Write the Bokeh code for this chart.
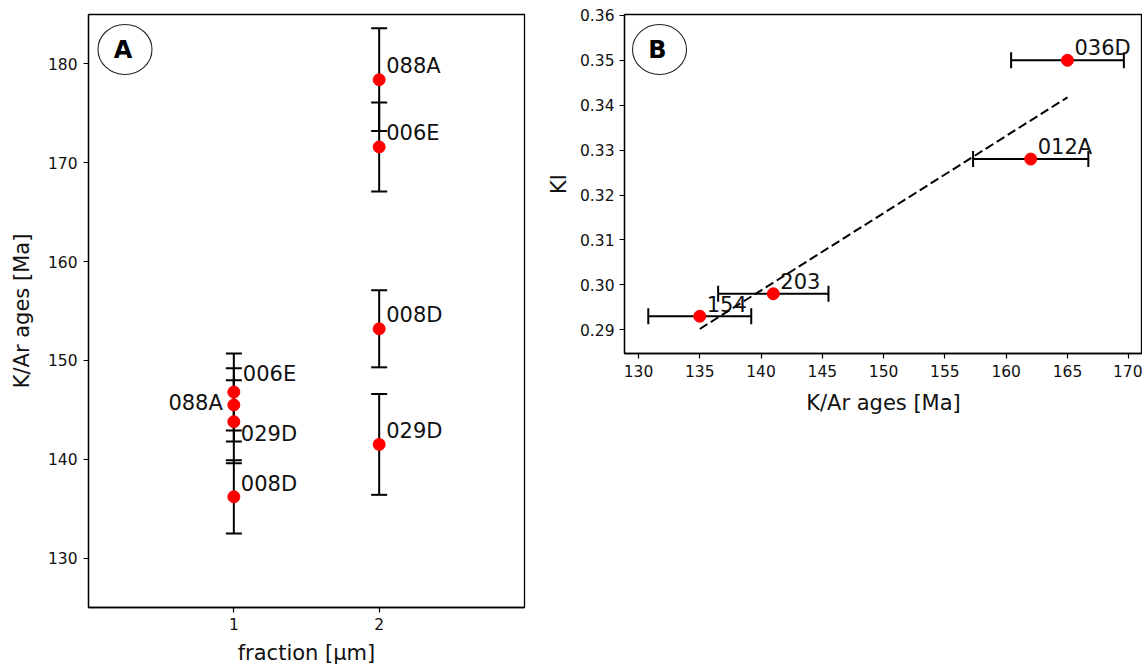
import numpy as np
from bokeh.plotting import figure
from bokeh.models import (Range1d, FixedTicker, Whisker, TeeHead, ColumnDataSource,
                          PrintfTickFormatter)
from bokeh.layouts import row
from bokeh.core.properties import value
from bokeh.embed import file_html
from bokeh.resources import INLINE

# ---------------- data: panel A ----------------
frac_1 = 1
samples_1 = ["006E", "088A", "029D", "008D"]
age_1 = [146.8, 145.5, 143.8, 136.2]
err_1 = [3.9, 3.7, 4.2, 3.7]

frac_2 = 2
samples_2 = ["088A", "006E", "008D", "029D"]
age_2 = [178.4, 171.6, 153.2, 141.5]
err_2 = [5.2, 4.5, 3.9, 5.1]

a_xticks = [1, 2]
a_yticks = [130, 140, 150, 160, 170, 180]

# ---------------- data: panel B ----------------
samples_b = ["154", "203", "012A", "036D"]
age_b = [135.0, 141.0, 162.0, 165.0]
age_err_b = [4.2, 4.5, 4.7, 4.6]
ki_b = [0.293, 0.298, 0.328, 0.350]

b_xticks = [130, 135, 140, 145, 150, 155, 160, 165, 170]
b_yticks = [0.29, 0.30, 0.31, 0.32, 0.33, 0.34, 0.35, 0.36]

# ---------------- style ----------------
FONT = "DejaVu Sans"
TICK_FS = "15.5px"
LAB_FS = "21px"
ANN_FS = "21px"


def style(p):
    p.outline_line_color = "black"
    p.outline_line_width = 1.3
    p.outline_line_alpha = 1.0
    p.xgrid.visible = False
    p.ygrid.visible = False
    for ax in (p.xaxis, p.yaxis):
        ax.axis_line_color = "black"
        ax.axis_line_width = 1.3
        ax.major_tick_line_color = "black"
        ax.major_tick_line_width = 1.2
        ax.major_tick_out = 5
        ax.major_tick_in = 0
        ax.minor_tick_line_color = None
        ax.major_label_text_font = FONT
        ax.major_label_text_font_size = TICK_FS
        ax.major_label_text_color = "#111111"
        ax.axis_label_text_font = FONT
        ax.axis_label_text_font_size = LAB_FS
        ax.axis_label_text_font_style = "normal"
        ax.axis_label_text_color = "#111111"


def add_badge(p, xr, yr, fx, fy, letter):
    cx = xr.start + fx * (xr.end - xr.start)
    cy = yr.end - fy * (yr.end - yr.start)
    p.ellipse(x=[cx], y=[cy], width=54, height=50, width_units="screen",
              height_units="screen", fill_color=None, line_color="#222222",
              line_width=1.1)
    p.text(x=[cx], y=[cy], text=[letter], text_align="center",
           text_baseline="middle", text_font=value(FONT), text_font_size="24px",
           text_font_style="bold", text_color="black", x_offset=-2, y_offset=1)


# ---------------- panel A ----------------
xrA = Range1d(0, 3)
yrA = Range1d(125, 185)
pA = figure(width=542, height=667, x_range=xrA, y_range=yrA,
            output_backend="svg", toolbar_location=None,
            min_border_left=88, min_border_right=18, min_border_top=14,
            min_border_bottom=59)
pA.frame_align = False
style(pA)
pA.xaxis.ticker = FixedTicker(ticks=a_xticks)
pA.yaxis.ticker = FixedTicker(ticks=a_yticks)
pA.xaxis.axis_label = "fraction [μm]"
pA.yaxis.axis_label = "K/Ar ages [Ma]"
pA.xaxis.major_label_standoff = 5
pA.xaxis.axis_label_standoff = 8
pA.xaxis.major_label_text_line_height = 1.0
pA.xaxis.axis_label_text_line_height = 1.0
pA.yaxis.major_label_standoff = 6
pA.yaxis.axis_label_standoff = 11

xa = [frac_1] * len(age_1) + [frac_2] * len(age_2)
ya = age_1 + age_2
ea = err_1 + err_2
srcA = ColumnDataSource(dict(x=xa, y=ya,
                             lower=[v - e for v, e in zip(ya, ea)],
                             upper=[v + e for v, e in zip(ya, ea)]))
wA = Whisker(source=srcA, base="x", upper="upper", lower="lower",
             dimension="height", line_color="black", line_width=2,
             upper_head=TeeHead(size=16, line_width=2, line_color="black"),
             lower_head=TeeHead(size=16, line_width=2, line_color="black"),
             level="underlay")
pA.add_layout(wA)
pA.scatter(x="x", y="y", source=srcA, size=12, color="red", line_color="red")

# labels at fraction 1 (right side) and the one on the left side
dx1 = [9, -11, 7, 7]
dy1 = [-18.5, -1.5, 12.5, -12.5]
right_idx = [0, 2, 3]
pA.text(x=[frac_1] * 3, y=[age_1[i] for i in right_idx],
        text=[samples_1[i] for i in right_idx],
        x_offset=[dx1[i] for i in right_idx], y_offset=[dy1[i] for i in right_idx],
        text_align="left", text_baseline="middle", text_font=value(FONT),
        text_font_size=ANN_FS, text_color="#111111")
pA.text(x=[frac_1], y=[age_1[1]], text=[samples_1[1]],
        x_offset=dx1[1], y_offset=dy1[1], text_align="right",
        text_baseline="middle", text_font=value(FONT),
        text_font_size=ANN_FS, text_color="#111111")
pA.text(x=[frac_2] * len(age_2), y=age_2, text=samples_2,
        x_offset=7, y_offset=-13.5, text_align="left", text_baseline="middle",
        text_font=value(FONT), text_font_size=ANN_FS, text_color="#111111")
add_badge(pA, xrA, yrA, 0.0837, 0.0589, "A")

# ---------------- panel B ----------------
xrB = Range1d(128.86, 171.12)
yrB = Range1d(0.2847, 0.3602)
pB = figure(width=600, height=423, x_range=xrB, y_range=yrB,
            output_backend="svg", toolbar_location=None,
            min_border_left=82, min_border_right=0, min_border_top=14,
            min_border_bottom=70)
pB.frame_align = False
style(pB)
pB.xaxis.ticker = FixedTicker(ticks=b_xticks)
pB.yaxis.ticker = FixedTicker(ticks=b_yticks)
pB.yaxis.formatter = PrintfTickFormatter(format="%.2f")
pB.xaxis.axis_label = "K/Ar ages [Ma]"
pB.yaxis.axis_label = "KI"
pB.xaxis.major_label_standoff = 6
pB.xaxis.axis_label_standoff = 11
pB.yaxis.major_label_standoff = 5
pB.yaxis.axis_label_standoff = 6

srcB = ColumnDataSource(dict(x=age_b, y=ki_b,
                             lower=[v - e for v, e in zip(age_b, age_err_b)],
                             upper=[v + e for v, e in zip(age_b, age_err_b)],
                             name=samples_b))
wB = Whisker(source=srcB, base="y", upper="upper", lower="lower",
             dimension="width", line_color="black", line_width=2,
             upper_head=TeeHead(size=16, line_width=2, line_color="black"),
             lower_head=TeeHead(size=16, line_width=2, line_color="black"),
             level="underlay")
pB.add_layout(wB)

slope, intercept = np.polyfit(age_b, ki_b, 1)
fx = np.array([min(age_b), max(age_b)])
pB.line(x=fx, y=slope * fx + intercept, line_color="black", line_width=2,
        line_dash="9 4")

pB.scatter(x="x", y="y", source=srcB, size=12, color="red", line_color="red")
pB.text(x="x", y="y", text="name", source=srcB, x_offset=7, y_offset=-12.5,
        text_align="left", text_baseline="middle", text_font=value(FONT),
        text_font_size=ANN_FS, text_color="#111111")
add_badge(pB, xrB, yrB, 0.0676, 0.1032, "B")

layout = row(pA, pB)
open("out.html", "w").write(file_html(layout, INLINE))
